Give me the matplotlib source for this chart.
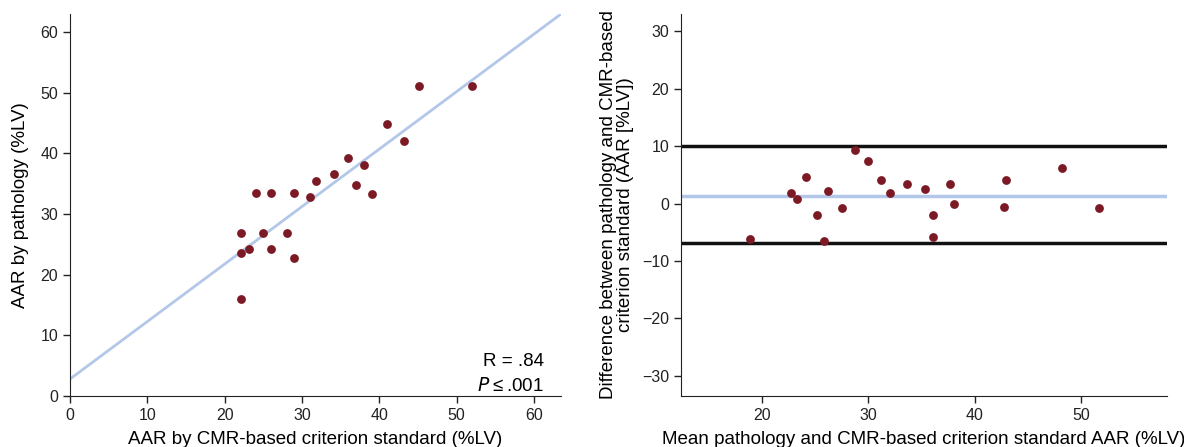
import matplotlib
matplotlib.use("Agg")
import matplotlib.pyplot as plt
import numpy as np

plt.rcParams['font.family'] = ['Liberation Sans', 'DejaVu Sans']

# left panel: correlation
cmr_aar = [22.1, 22.1, 22.1, 23.2, 24.1, 25.0, 26.0, 26.0, 28.1, 29.0, 29.0,
           31.0, 31.8, 34.1, 35.9, 37.0, 38.0, 39.0, 41.0, 43.2, 45.2, 52.0]
path_aar = [26.9, 23.6, 16.0, 24.2, 33.4, 26.9, 33.4, 24.2, 26.9, 33.4, 22.7,
            32.8, 35.4, 36.6, 39.3, 34.8, 38.1, 33.3, 44.9, 42.1, 51.2, 51.2]
fit_intercept = 2.8
fit_slope = 0.948

# right panel: Bland-Altman
ba_mean = [18.85, 22.76, 23.32, 24.2, 25.17, 25.84, 26.19, 27.52, 28.78, 29.97, 31.22,
           32.03, 33.67, 35.35, 36.08, 36.08, 37.73, 38.04, 42.73, 42.94, 48.25, 51.75]
ba_diff = [-6.16, 1.80, 0.75, 4.7, -1.97, -6.45, 2.2, -0.75, 9.35, 7.49, 4.07,
           1.92, 3.43, 2.56, -1.97, -5.87, 3.43, -0.12, -0.52, 4.07, 6.27, -0.75]
bias = 1.35
loa_upper = 10.05
loa_lower = -6.8

dot_color = '#7b1a24'
line_color = '#b3c7e8'

fig = plt.figure(figsize=(11.84, 4.47), dpi=100)
ax1 = fig.add_axes([70 / 1184, 51 / 447, 491 / 1184, 382 / 447])
ax2 = fig.add_axes([681 / 1184, 51 / 447, 486 / 1184, 382 / 447])

for ax in (ax1, ax2):
    ax.spines['top'].set_visible(False)
    ax.spines['right'].set_visible(False)
    ax.tick_params(direction='out', length=5, width=1, labelsize=11.5, colors='#222222')
    ax.spines['left'].set_color('#222222')
    ax.spines['bottom'].set_color('#222222')

# correlation plot
xs = np.array([0, 63.5])
ax1.plot(xs, fit_intercept + fit_slope * xs, color=line_color, lw=2, zorder=1)
ax1.scatter(cmr_aar, path_aar, s=40, color=dot_color, zorder=2, linewidths=0)
ax1.set_xlim(0, 63.5)
ax1.set_ylim(0, 63)
ax1.set_xticks(range(0, 61, 10))
ax1.set_yticks(range(0, 61, 10))
ax1.set_xlabel('AAR by CMR-based criterion standard (%LV)', fontsize=13.5, labelpad=6)
ax1.set_ylabel('AAR by pathology (%LV)', fontsize=13.5, labelpad=8)
ax1.text(0.965, 0.09, 'R = .84', transform=ax1.transAxes, ha='right', va='center', fontsize=13.5)
ax1.text(0.965, 0.025, r'$\it{P}$' + '\u2009\u2264\u2009.001', transform=ax1.transAxes,
         ha='right', va='center', fontsize=13.5)

# Bland-Altman plot
ax2.axhline(loa_upper, color='#111111', lw=2.5, zorder=1)
ax2.axhline(loa_lower, color='#111111', lw=2.5, zorder=1)
ax2.axhline(bias, color=line_color, lw=2.5, zorder=1)
ax2.scatter(ba_mean, ba_diff, s=40, color=dot_color, zorder=2, linewidths=0)
ax2.set_xlim(12.4, 58.1)
ax2.set_ylim(-33.5, 33)
ax2.set_xticks(range(20, 51, 10))
ax2.set_yticks(range(-30, 31, 10))
ax2.set_yticklabels(['\u221230', '\u221220', '\u221210', '0', '10', '20', '30'])
ax2.set_xlabel('Mean pathology and CMR-based criterion standard AAR (%LV)', fontsize=13.5,
               labelpad=6)
ax2.set_ylabel('Difference between pathology and CMR-based\ncriterion standard (AAR [%LV])',
               fontsize=13.5, labelpad=6, linespacing=0.95)

fig.savefig('out.png', dpi=100)
